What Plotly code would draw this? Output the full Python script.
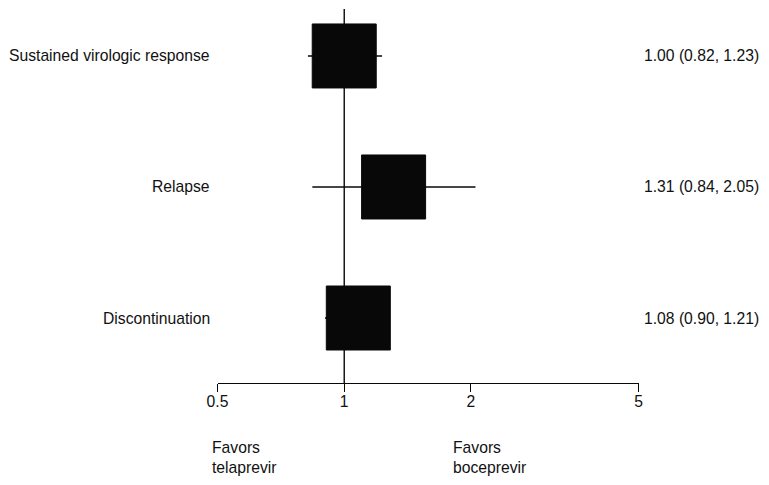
import plotly.graph_objects as go

# ---- data ----
outcomes = ["Sustained virologic response", "Relapse", "Discontinuation"]
estimates = [1.00, 1.31, 1.08]
ci_low = [0.82, 0.84, 0.90]
ci_high = [1.23, 2.05, 1.21]
row_pos = [3, 2, 1]
tick_vals = [0.5, 1, 2, 5]
tick_text = ["0.5", "1", "2", "5"]
ref_value = 1
left_note = "Favors<br>telaprevir"
right_note = "Favors<br>boceprevir"

# page body has an 8px margin; size the figure so the page fits the window
OX, OY = 8, 8
W, H = 769 - 2 * OX, 485 - 2 * OY


def px(x):
    return (x - OX) / W


def py(y):
    return (H - (y - OY)) / H


FONT = "Liberation Sans, Arial, Helvetica, sans-serif"
INK = "#080808"
FS = 15.7

fig = go.Figure()

# CI lines
cx, cy = [], []
for lo, hi, r in zip(ci_low, ci_high, row_pos):
    cx += [lo, hi, None]
    cy += [r, r, None]
fig.add_trace(go.Scatter(x=cx, y=cy, mode="lines",
                         line=dict(color=INK, width=1.6),
                         hoverinfo="skip", showlegend=False, cliponaxis=False))

# point-estimate boxes
fig.add_trace(go.Scatter(x=estimates, y=row_pos, mode="markers",
                         marker=dict(symbol="square", size=64, color=INK,
                                     line=dict(color=INK, width=1)),
                         showlegend=False, cliponaxis=False))

y_lo, y_hi = 0.504, 3.366
fig.add_shape(type="line", xref="x", yref="y", x0=ref_value, x1=ref_value,
              y0=y_lo, y1=3.359, line=dict(color=INK, width=1.4), layer="below")

for name, est, lo, hi, r in zip(outcomes, estimates, ci_low, ci_high, row_pos):
    fig.add_annotation(x=px(212), xref="paper", y=r, yref="y", text=name,
                       showarrow=False, xanchor="right", yanchor="middle",
                       font=dict(family=FONT, size=FS, color="#111"))
    fig.add_annotation(x=px(642), xref="paper", y=r, yref="y",
                       text=f"{est:.2f} ({lo:.2f}, {hi:.2f})",
                       showarrow=False, xanchor="left", yanchor="middle",
                       font=dict(family=FONT, size=FS, color="#111"))

fig.add_annotation(x=px(210), xref="paper", y=py(457), yref="paper",
                   text=left_note, showarrow=False, xanchor="left", yanchor="middle",
                   align="left", font=dict(family=FONT, size=FS, color="#111"))
fig.add_annotation(x=px(451), xref="paper", y=py(457), yref="paper",
                   text=right_note, showarrow=False, xanchor="left", yanchor="middle",
                   align="left", font=dict(family=FONT, size=FS, color="#111"))

fig.update_layout(
    width=W, height=H,
    margin=dict(l=0, r=0, t=0, b=0, pad=0, autoexpand=False),
    paper_bgcolor="white", plot_bgcolor="white",
    xaxis=dict(type="log", range=[-0.30103, 0.69897],
               domain=[px(217.5), px(638.5)], automargin=False,
               tickvals=tick_vals, ticktext=tick_text,
               showline=True, linecolor=INK, linewidth=1.4,
               ticks="outside", ticklen=8, tickwidth=1.4, tickcolor=INK,
               ticklabelstandoff=-4,
               showgrid=False, zeroline=False,
               tickfont=dict(family=FONT, size=FS, color="#111")),
    yaxis=dict(range=[y_lo, y_hi], domain=[py(383), py(OY)], automargin=False,
               showgrid=False, zeroline=False, showline=False,
               showticklabels=False, ticks=""),
)

fig.write_html("out.html")
